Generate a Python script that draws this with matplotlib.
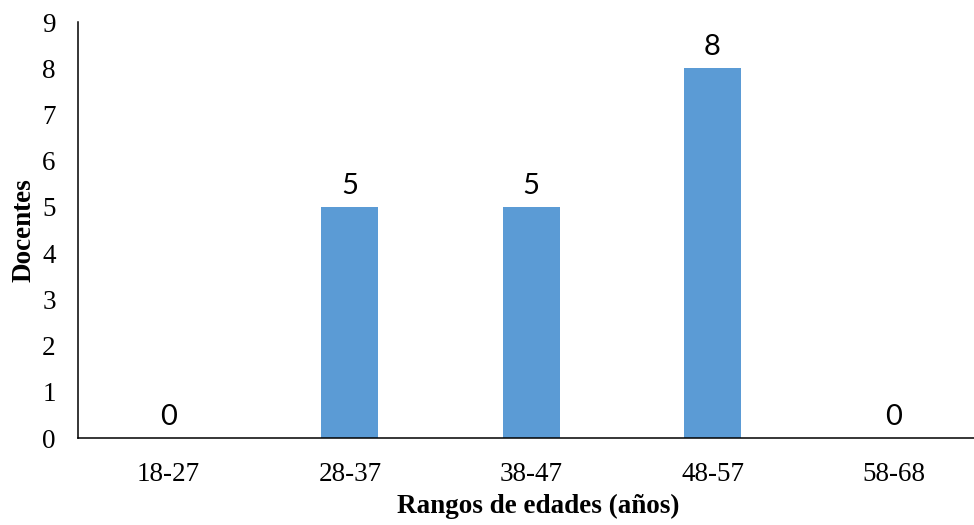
import matplotlib.pyplot as plt
import numpy as np

# datos del grafico
rangos = ['18-27', '28-37', '38-47', '48-57', '58-68']
docentes = [0, 5, 5, 8, 0]
y_ticks = list(range(0, 10))

bar_color = '#5B9BD5'

fig = plt.figure(figsize=(9.74, 5.25), dpi=100)
# the axis runs a bit past the right edge of the picture, like in the source
ax = fig.add_axes([78 / 974, 1 - 438 / 525, 906.5 / 974, 416 / 525])

x = np.arange(len(rangos))
bars = ax.bar(x, docentes, width=0.314, color=bar_color)

for xi, v in zip(x, docentes):
    ax.annotate(str(v), (xi, v), xytext=(0, 15), textcoords='offset points',
                ha='center', va='center', fontsize=21, family='Lato')

ax.set_xlim(-0.5, len(rangos) - 0.5)
ax.set_ylim(0, 9)
ax.set_yticks(y_ticks)
ax.set_xticks(x)
ax.set_xticklabels(rangos)
ax.tick_params(axis='both', length=0, labelsize=19.5)
ax.tick_params(axis='y', pad=16)
ax.tick_params(axis='x', pad=17)
for lab in ax.get_xticklabels() + ax.get_yticklabels():
    lab.set_family('Liberation Serif')

ax.spines['top'].set_visible(False)
ax.spines['right'].set_visible(False)
for s in ['left', 'bottom']:
    ax.spines[s].set_linewidth(1.1)
    ax.spines[s].set_color('#000000')

ax.set_xlabel('Rangos de edades (años)', family='Liberation Serif',
              fontweight='bold', fontsize=19.5)
ax.set_ylabel('Docentes', family='Liberation Serif',
              fontweight='bold', fontsize=19.5)
ax.xaxis.set_label_coords((538 - 78) / 906.5, -(494 - 438) / 416)
ax.yaxis.set_label_coords(-(78 - 36) / 906.5, (438 - 230) / 416)

plt.savefig('out.png', dpi=100)
